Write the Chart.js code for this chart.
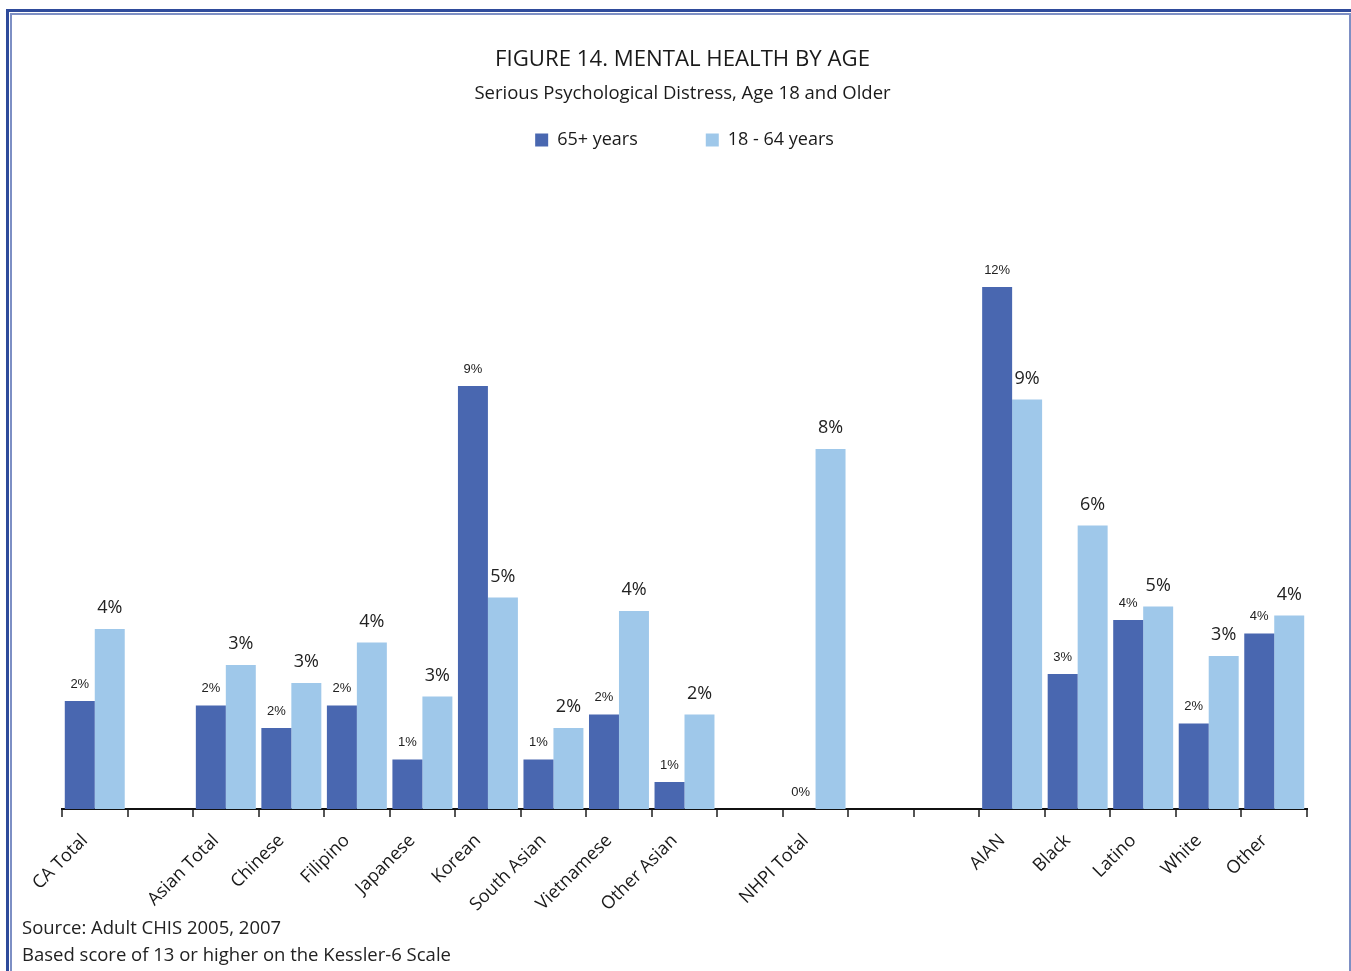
<!DOCTYPE html>
<html>
<head>
<meta charset="utf-8">
<script src="https://cdn.jsdelivr.net/npm/chart.js@4/dist/chart.umd.min.js"></script>
<style>
  html, body { margin: 0; padding: 0; background: #fff; overflow: hidden; }
  #wrap { position: relative; width: 1351px; height: 971px; }
  #frameOuter { position: absolute; left: 6px; top: 9px; width: 1360px; height: 1000px; border: 3px solid #2f4b9b; }
  #frameInner { position: absolute; left: 10px; top: 13px; width: 1337px; height: 1000px; border: 2px solid #7d8fc4; }
  canvas { position: absolute; left: 0; top: 0; }
</style>
</head>
<body>
<div id="wrap">
  <div id="frameOuter"></div>
  <div id="frameInner"></div>
  <canvas id="chart"></canvas>
</div>
<script>
// categories (blank slots keep the gaps between groups)
const categories = ['CA Total', '', 'Asian Total', 'Chinese', 'Filipino', 'Japanese', 'Korean',
  'South Asian', 'Vietnamese', 'Other Asian', '', 'NHPI Total', '', '',
  'AIAN', 'Black', 'Latino', 'White', 'Other']

const olderValues = [2.4, null, 2.3, 1.8, 2.3, 1.1, 9.4, 1.1, 2.1, 0.6, null, 0, null, null,
  11.6, 3.0, 4.2, 1.9, 3.9]
const youngerValues = [4.0, null, 3.2, 2.8, 3.7, 2.5, 4.7, 1.8, 4.4, 2.1, null, 8.0, null, null,
  9.1, 6.3, 4.5, 3.4, 4.3]

const seriesNames = ['65+ years', '18 - 64 years']
const titleText = 'FIGURE 14. MENTAL HEALTH BY AGE'
const subtitleText = 'Serious Psychological Distress, Age 18 and Older'
const footnotes = ['Source: Adult CHIS 2005, 2007', 'Based score of 13 or higher on the Kessler-6 Scale']

const PX_PER_UNIT = 45

let canvas = document.getElementById('chart')
canvas.width = 1351
canvas.height = 971
canvas.style.width = '1351px'
canvas.style.height = '971px'

const textBits = {
  id: 'textBits',
  afterDatasetsDraw(chart) {
    let ctx = chart.ctx
    ctx.save()
    ctx.textAlign = 'center'
    ctx.textBaseline = 'middle'
    ctx.fillStyle = '#222'
    chart.data.datasets.forEach((ds, di) => {
      let meta = chart.getDatasetMeta(di)
      meta.data.forEach((bar, i) => {
        let v = ds.data[i]
        if (v === null || v === undefined) return
        if (di === 0) {
          ctx.font = '13px "Liberation Sans", Arial, sans-serif'
          ctx.fillText(Math.round(v) + '%', bar.x, bar.y - 17)
        } else {
          ctx.font = '18px "Open Sans", sans-serif'
          ctx.fillText(Math.round(v) + '%', bar.x, bar.y - 21)
        }
      })
    })
    ctx.restore()
  },
  afterDraw(chart) {
    let ctx = chart.ctx
    let mid = (chart.chartArea.left + chart.chartArea.right) / 2 - 2
    ctx.save()
    ctx.fillStyle = '#1a1a1a'
    ctx.textBaseline = 'middle'
    ctx.textAlign = 'center'
    ctx.font = '22.2px "Open Sans", sans-serif'
    ctx.fillText(titleText, mid, 60)
    ctx.font = '18.5px "Open Sans", sans-serif'
    ctx.fillText(subtitleText, mid, 94)
    ctx.textAlign = 'left'
    ctx.fillStyle = '#222'
    ctx.fillText(footnotes[0], 22, 929)
    ctx.fillText(footnotes[1], 22, 956)
    ctx.restore()
  }
}

let myChart = new Chart(canvas.getContext('2d'), {
  type: 'bar',
  data: {
    labels: categories,
    datasets: [
      { label: seriesNames[0], data: olderValues, backgroundColor: '#4967b0' },
      { label: seriesNames[1], data: youngerValues, backgroundColor: '#9fc8ea' }
    ]
  },
  plugins: [textBits],
  options: {
    responsive: false,
    animation: false,
    devicePixelRatio: 1,
    layout: { padding: { left: 62, right: 44, top: 63, bottom: 0 } },
    datasets: { bar: { categoryPercentage: 0.915, barPercentage: 1.0 } },
    plugins: {
      title: { display: false },
      subtitle: { display: false },
      legend: {
        display: true,
        labels: {
          color: '#1a1a1a',
          boxWidth: 13,
          boxHeight: 13,
          padding: 68,
          font: { family: '"Open Sans", sans-serif', size: 18 }
        }
      },
      tooltip: { enabled: false }
    },
    scales: {
      x: {
        offset: true,
        grid: {
          offset: true,
          drawOnChartArea: false,
          drawTicks: true,
          tickLength: 8,
          color: '#555',
          lineWidth: 2
        },
        border: { display: true, color: '#111', width: 2 },
        ticks: {
          autoSkip: false,
          maxRotation: 45,
          minRotation: 45,
          padding: 13,
          labelOffset: -10,
          color: '#1a1a1a',
          font: { family: '"Open Sans", sans-serif', size: 18 }
        },
        afterFit(scale) { scale.height = 162 }
      },
      y: {
        display: false,
        min: 0,
        max: 14
      }
    }
  }
})

// fix the value scale so one percent spans the same height as in the figure
let area = myChart.chartArea
myChart.options.scales.y.max = (area.bottom - area.top) / PX_PER_UNIT
myChart.update('none')
</script>
</body>
</html>
